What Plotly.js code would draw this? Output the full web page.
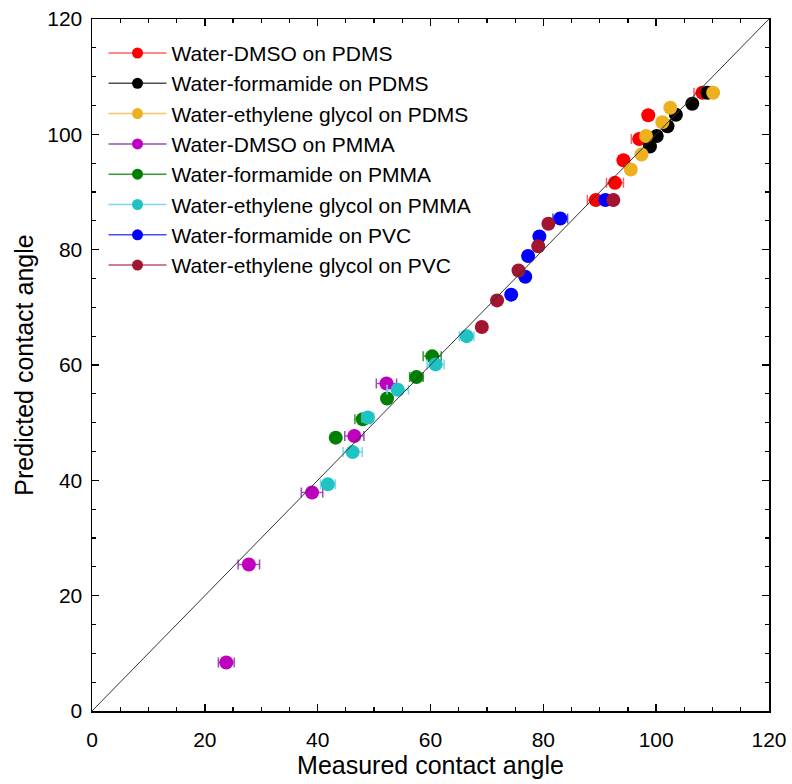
<!DOCTYPE html>
<html>
<head>
<meta charset="utf-8">
<script src="https://cdn.plot.ly/plotly-3.0.1.min.js"></script>
<style>html,body{margin:0;padding:0;background:#fff;}#chart{width:792px;height:784px;}</style>
</head>
<body>
<div id="chart"></div>
<script>
// Series names
const seriesNames = [
  "Water-DMSO on PDMS",
  "Water-formamide on PDMS",
  "Water-ethylene glycol on PDMS",
  "Water-DMSO on PMMA",
  "Water-formamide on PMMA",
  "Water-ethylene glycol on PMMA",
  "Water-formamide on PVC",
  "Water-ethylene glycol on PVC"
];
const markerColors = ["#ff0000","#000000","#edb120","#bf00bf","#008000","#1fc3c3","#0000ff","#a2142f"];
const errorColors  = ["#ff6060","#505050","#f2c866","#9a4fb8","#3a9a3a","#7fd3ee","#4a4aff","#c0506a"];

// Measured (x), predicted (y), x error half-widths
const dmsoPdmsX = [89.3, 92.7, 94.2, 97.0, 98.6, 108.2];
const dmsoPdmsY = [88.6, 91.6, 95.5, 99.2, 103.3, 107.2];
const dmsoPdmsE = [1.5, 1.5, 0.8, 1.4, 0.8, 1.5];

const formPdmsX = [98.9, 100.1, 102.0, 103.5, 106.4, 109.1];
const formPdmsY = [97.9, 99.7, 101.4, 103.4, 105.3, 107.2];
const formPdmsE = [0.6, 0.6, 0.7, 0.5, 0.6, 1.0];

const egPdmsX = [95.5, 97.4, 98.2, 101.1, 102.5, 110.1];
const egPdmsY = [93.9, 96.5, 99.7, 102.1, 104.6, 107.2];
const egPdmsE = [0.6, 0.6, 0.6, 0.6, 0.6, 0.6];

const dmsoPmmaX = [23.8, 27.8, 39.0, 46.5, 52.2];
const dmsoPmmaY = [8.4, 25.4, 37.9, 47.7, 56.8];
const dmsoPmmaE = [1.4, 1.9, 1.9, 1.7, 1.8];

const formPmmaX = [43.2, 48.0, 52.3, 57.5, 60.3];
const formPmmaY = [47.4, 50.6, 54.2, 57.9, 61.5];
const formPmmaE = [0.6, 1.4, 0.6, 1.2, 1.6];

const egPmmaX = [41.8, 46.2, 48.9, 54.2, 60.9, 66.4];
const egPmmaY = [39.3, 44.9, 50.9, 55.7, 60.1, 65.0];
const egPmmaE = [1.3, 1.7, 1.0, 1.9, 1.5, 1.3];

const formPvcX = [74.3, 76.8, 77.3, 79.3, 83.0, 91.0];
const formPvcY = [72.2, 75.3, 78.9, 82.3, 85.4, 88.6];
const formPvcE = [0.7, 0.7, 0.7, 0.7, 1.3, 0.8];

const egPvcX = [69.1, 71.8, 75.6, 79.1, 80.9, 92.4];
const egPvcY = [66.6, 71.2, 76.4, 80.6, 84.5, 88.6];
const egPvcE = [0.7, 0.7, 0.7, 0.7, 0.7, 0.7];

const axisRange = [0, 120];
const tickVals = [0, 20, 40, 60, 80, 100, 120];

const allX = [dmsoPdmsX, formPdmsX, egPdmsX, dmsoPmmaX, formPmmaX, egPmmaX, formPvcX, egPvcX];
const allY = [dmsoPdmsY, formPdmsY, egPdmsY, dmsoPmmaY, formPmmaY, egPmmaY, formPvcY, egPvcY];
const allE = [dmsoPdmsE, formPdmsE, egPdmsE, dmsoPmmaE, formPmmaE, egPmmaE, formPvcE, egPvcE];

const traces = [];
for (let i = 0; i < seriesNames.length; i++) {
  traces.push({
    type: "scatter", mode: "markers",
    x: allX[i], y: allY[i], name: seriesNames[i], showlegend: false,
    marker: {color: markerColors[i], size: 14},
    error_x: {type: "data", array: allE[i], visible: true, color: errorColors[i], thickness: 1.5, width: 5},
    cliponaxis: false
  });
}
// legend-only entries (marker with a line, mimicking the error-bar glyph)
for (let i = 0; i < seriesNames.length; i++) {
  traces.push({
    type: "scatter", mode: "lines+markers",
    x: [null], y: [null], name: seriesNames[i], showlegend: true,
    marker: {color: markerColors[i], size: 11},
    line: {color: errorColors[i], width: 1.5}
  });
}

const font = "Liberation Sans, Arial, Helvetica, sans-serif";
const axisCommon = {
  range: axisRange, tickvals: tickVals, ticks: "inside", ticklen: 7, tickwidth: 1.5, tickcolor: "#000",
  showline: true, linecolor: "#000", linewidth: 1.5, mirror: "ticks", showgrid: false, zeroline: false,
  tickfont: {family: font, size: 21, color: "#000"},
  minor: {dtick: 5, ticks: "inside", ticklen: 4, tickwidth: 1.2, tickcolor: "#000", showgrid: false}
};

const layout = {
  width: 792, height: 784,
  margin: {l: 92, r: 23, t: 19, b: 73},
  paper_bgcolor: "#fff", plot_bgcolor: "#fff",
  font: {family: font, color: "#000"},
  xaxis: Object.assign({}, axisCommon, {
    ticklabelstandoff: 9,
    title: {text: "Measured contact angle", font: {family: font, size: 25, color: "#000"}, standoff: 6}
  }),
  yaxis: Object.assign({}, axisCommon, {
    ticklabelstandoff: 4,
    title: {text: "Predicted contact angle", font: {family: font, size: 25, color: "#000"}, standoff: 6}
  }),
  showlegend: true,
  legend: {x: 0.017, y: 0.98, xanchor: "left", yanchor: "top", bgcolor: "rgba(0,0,0,0)",
           borderwidth: 0, font: {family: font, size: 21, color: "#000"}, itemwidth: 58},
  shapes: [{type: "line", xref: "x", yref: "y", x0: axisRange[0], y0: axisRange[0], x1: axisRange[1], y1: axisRange[1],
            line: {color: "#333", width: 1}, layer: "above"}]
};

Plotly.newPlot("chart", traces, layout, {displayModeBar: false, staticPlot: true});
</script>
</body>
</html>
